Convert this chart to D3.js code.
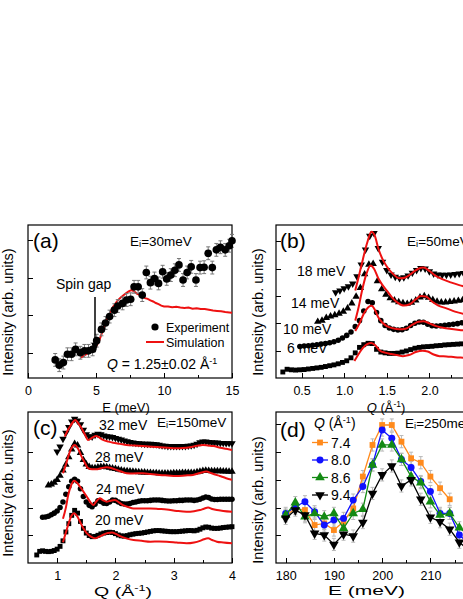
<!DOCTYPE html>
<meta charset="utf-8">
<style>
body { margin: 0; background: #fff; }
svg { font-family: "Liberation Sans", Arial, sans-serif; }
.axis text { font-size: 12.5px; fill: #000; font-family: "Liberation Sans", Arial, sans-serif; }
.axis path, .axis line { fill: none; stroke: #000; shape-rendering: crispEdges; }
.frame { fill: none; stroke: #000; stroke-width: 1.2px; }
.sim { fill: none; stroke: #ee1111; stroke-width: 2px; }
</style>
<body>
<div id="chart"></div>
<script src="https://cdn.jsdelivr.net/npm/d3@7/dist/d3.min.js"></script>
<script>

// ---- (a) Ei = 30 meV, Q = 1.25 A^-1 : [E (meV), intensity]
var aExp = [[2.0,0.82],[2.3,0.68],[2.6,0.75],[2.9,0.97],[3.2,0.97],[3.5,1.10],[3.85,1.01],[4.15,1.06],
  [4.45,1.06],[4.75,1.10],[5.05,1.33],[5.4,1.63],[5.7,1.80],[6.0,1.97],[6.35,2.14],[6.6,2.25],[6.95,2.32],
  [7.25,2.41],[7.55,2.43],[7.8,2.76],[8.1,2.76],[8.4,2.54],[8.7,3.14],[9.0,2.87],[9.3,2.98],[9.6,2.85],
  [9.9,3.16],[10.2,2.97],[10.5,3.07],[10.8,3.20],[11.1,3.34],[11.4,2.94],[11.7,3.14],[12.0,3.29],
  [12.35,2.94],[12.65,3.27],[12.95,3.28],[13.25,3.65],[13.55,3.27],[13.85,3.74],[14.15,3.81],[14.5,3.74],
  [14.8,3.85],[15.0,3.98]];
var aErr = 0.17;
var aSim = [[3.9,0.88],[4.2,0.95],[4.5,1.02],[4.8,1.08],[5.0,1.17],[5.2,1.30],[5.4,1.50],[5.6,1.70],
  [5.8,1.90],[6.0,2.05],[6.2,2.20],[6.4,2.30],[6.6,2.40],[6.8,2.47],[7.0,2.53],[7.2,2.59],[7.4,2.64],
  [7.6,2.67],[7.8,2.64],[8.0,2.58],[8.2,2.55],[8.4,2.50],[8.6,2.46],[8.8,2.44],[9.0,2.40],[9.2,2.37],
  [9.4,2.33],[9.6,2.30],[9.8,2.26],[10.0,2.24],[10.3,2.24],[10.6,2.22],[10.9,2.23],[11.2,2.21],[11.5,2.20],
  [11.8,2.21],[12.1,2.18],[12.4,2.19],[12.7,2.17],[13.0,2.17],[13.3,2.15],[13.6,2.13],[13.9,2.12],
  [14.2,2.11],[14.5,2.09],[14.8,2.08],[15.0,2.07]];

// ---- (b) Ei = 50 meV, cuts vs Q on a 0.05 A^-1 grid
var bLabels = ["6 meV", "10 meV", "14 meV", "18 meV"];
var bStart = [0.28, 0.48, 0.69, 0.90];
var bStep = 0.05;
var b6 = [0.22,0.32,0.30,0.29,0.30,0.31,0.33,0.35,0.37,0.39,0.42,0.45,0.48,0.52,0.57,0.63,0.74,0.92,1.12,
  1.22,1.27,1.26,1.05,0.95,0.92,0.90,0.90,0.91,0.95,0.99,1.04,1.09,1.12,1.14,1.15,1.16,1.18,1.19,1.21,
  1.22,1.23,1.24,1.25,1.26,1.27];
var b10 = [1.15,1.17,1.18,1.20,1.22,1.24,1.26,1.29,1.33,1.38,1.46,1.56,1.68,1.88,2.10,2.45,2.80,2.75,2.40,
  2.10,1.92,1.83,1.78,1.76,1.77,1.82,1.92,2.00,2.05,2.04,1.97,1.91,1.90,1.91,1.93,1.95,1.97,1.99,2.02,
  2.03,2.04];
var b14 = [2.06,2.10,2.20,2.26,2.30,2.36,2.43,2.55,2.73,2.98,3.30,3.80,4.15,4.18,3.55,3.25,3.05,2.92,2.84,
  2.78,2.74,2.72,2.76,2.84,2.95,3.00,2.94,2.86,2.80,2.77,2.77,2.79,2.81,2.83,2.85,2.86,2.87];
var b18 = [3.13,3.20,3.28,3.35,3.45,3.72,4.15,4.70,5.20,5.30,4.75,4.25,3.95,3.78,3.70,3.65,3.68,3.75,3.85,
  3.95,4.02,4.00,3.90,3.82,3.78,3.77,3.77,3.78,3.80,3.82,3.84,3.85,3.86];
var b6Sim = [[1.12,0.62],[1.17,0.88],[1.22,1.10],[1.27,1.24],[1.32,1.28],[1.37,1.18],[1.42,1.00],[1.48,0.93],
  [1.55,0.88],[1.62,0.84],[1.69,0.80],[1.76,0.84],[1.84,0.95],[1.92,1.00],[1.98,0.97],[2.05,0.86],
  [2.12,0.80],[2.20,0.79],[2.30,0.76],[2.40,0.74],[2.50,0.72]];
var b10Sim = [[1.13,1.72],[1.18,2.00],[1.23,2.35],[1.28,2.58],[1.32,2.64],[1.36,2.50],[1.40,2.22],[1.45,2.02],
  [1.50,1.90],[1.57,1.82],[1.65,1.78],[1.72,1.80],[1.80,1.95],[1.87,2.06],[1.93,2.08],[2.00,2.00],
  [2.08,1.90],[2.16,1.84],[2.24,1.80],[2.35,1.76],[2.50,1.72]];
var b14Sim = [[1.13,2.10],[1.17,2.60],[1.21,3.20],[1.26,3.80],[1.31,4.12],[1.35,4.00],[1.40,3.65],[1.45,3.40],
  [1.50,3.20],[1.56,2.95],[1.63,2.75],[1.70,2.65],[1.77,2.70],[1.84,2.88],[1.90,3.00],[1.96,2.98],
  [2.03,2.80],[2.10,2.66],[2.20,2.55],[2.30,2.43],[2.40,2.35],[2.50,2.30]];
var b18Sim = [[1.13,3.20],[1.17,3.70],[1.22,4.35],[1.27,4.95],[1.32,5.35],[1.36,5.20],[1.40,4.75],[1.45,4.35],
  [1.50,4.08],[1.57,3.82],[1.65,3.65],[1.72,3.68],[1.80,3.85],[1.87,4.00],[1.93,4.04],[2.00,3.92],
  [2.07,3.75],[2.15,3.62],[2.25,3.50],[2.35,3.40],[2.50,3.28]];

// ---- (c) Ei = 150 meV, cuts vs Q on a 0.05 A^-1 grid
var cLabels = ["20 meV", "24 meV", "28 meV", "32 meV"];
var cStart = [0.65, 0.75, 0.85, 1.00];
var cStep = 0.05;
var c20 = [0.29,0.42,0.44,0.42,0.41,0.42,0.45,0.50,0.60,0.80,1.12,1.42,1.72,1.90,1.80,1.50,1.25,1.08,0.99,
  0.95,0.96,1.00,1.05,1.08,1.10,1.11,1.10,1.06,1.01,0.98,0.97,0.99,1.02,1.04,1.06,1.07,1.08,1.10,1.12,
  1.14,1.16,1.17,1.17,1.16,1.15,1.14,1.13,1.13,1.13,1.14,1.15,1.16,1.17,1.17,1.16,1.18,1.22,1.27,1.30,
  1.29,1.26,1.25,1.25,1.26,1.28,1.29,1.30,1.31];
var c24 = [1.65,1.66,1.69,1.74,1.80,1.88,2.00,2.20,2.48,2.75,2.95,3.02,2.95,2.68,2.40,2.20,2.08,2.03,2.12,
  2.25,2.22,2.16,2.15,2.20,2.27,2.26,2.20,2.15,2.13,2.13,2.15,2.18,2.20,2.23,2.25,2.25,2.25,2.26,2.27,
  2.27,2.27,2.26,2.25,2.24,2.24,2.25,2.25,2.26,2.26,2.27,2.27,2.27,2.26,2.27,2.30,2.35,2.38,2.36,2.31,
  2.29,2.29,2.30,2.30,2.30,2.30,2.30];
var c28 = [2.80,2.84,2.90,3.00,3.15,3.34,3.55,3.82,4.10,4.30,4.25,3.98,3.72,3.56,3.47,3.43,3.43,3.45,3.47,
  3.47,3.46,3.44,3.42,3.40,3.37,3.35,3.33,3.32,3.31,3.30,3.29,3.28,3.27,3.27,3.26,3.26,3.25,3.25,3.24,
  3.24,3.24,3.24,3.24,3.25,3.25,3.25,3.26,3.26,3.26,3.26,3.26,3.28,3.30,3.33,3.34,3.33,3.32,3.32,3.32,
  3.32,3.31,3.31,3.30,3.30];
var c32 = [4.02,4.20,4.48,4.70,4.90,5.10,5.20,5.14,5.00,4.80,4.64,4.57,4.56,4.62,4.66,4.64,4.60,4.57,4.56,
  4.54,4.51,4.48,4.45,4.42,4.39,4.36,4.34,4.33,4.32,4.31,4.30,4.30,4.30,4.29,4.28,4.26,4.24,4.23,4.22,
  4.22,4.22,4.22,4.22,4.22,4.22,4.23,4.24,4.26,4.30,4.35,4.38,4.38,4.36,4.35,4.34,4.34,4.33,4.33,4.32,
  4.32,4.32];
var c20Sim = [[1.10,0.75],[1.15,1.10],[1.20,1.45],[1.25,1.72],[1.29,1.80],[1.34,1.70],[1.39,1.50],[1.45,1.25],
  [1.51,1.07],[1.58,0.95],[1.65,0.89],[1.72,0.95],[1.79,1.02],[1.87,1.08],[1.94,1.10],[2.01,1.05],
  [2.08,0.97],[2.20,0.88],[2.31,0.83],[2.45,0.80],[2.60,0.77],[2.75,0.78],[2.88,0.77],[3.05,0.74],
  [3.22,0.71],[3.35,0.74],[3.45,0.80],[3.52,0.86],[3.59,0.89],[3.66,0.83],[3.74,0.77],[3.85,0.74],[4.00,0.71]];
var c24Sim = [[1.10,1.60],[1.15,2.00],[1.19,2.45],[1.24,2.80],[1.29,2.97],[1.34,2.90],[1.39,2.76],[1.45,2.58],
  [1.51,2.39],[1.57,2.20],[1.62,2.09],[1.67,2.22],[1.73,2.34],[1.79,2.26],[1.85,2.21],[1.92,2.25],
  [1.99,2.27],[2.06,2.19],[2.13,2.09],[2.22,2.02],[2.31,1.97],[2.45,1.97],[2.60,1.97],[2.75,1.95],
  [2.88,1.93],[3.05,1.88],[3.22,1.85],[3.35,1.87],[3.45,1.91],[3.52,1.96],[3.59,2.00],[3.66,1.95],
  [3.74,1.91],[3.85,1.88],[4.00,1.85]];
var c28Sim = [[1.10,3.24],[1.15,3.55],[1.19,3.84],[1.24,4.12],[1.30,4.26],[1.36,4.12],[1.42,3.84],[1.48,3.60],
  [1.53,3.42],[1.60,3.38],[1.67,3.38],[1.75,3.42],[1.85,3.46],[1.94,3.42],[2.02,3.36],[2.10,3.30],
  [2.19,3.24],[2.30,3.23],[2.47,3.24],[2.60,3.21],[2.76,3.18],[2.90,3.16],[3.04,3.14],[3.20,3.16],
  [3.33,3.18],[3.45,3.25],[3.56,3.30],[3.65,3.24],[3.79,3.14],[3.90,3.06],[4.00,3.00]];
var c32Sim = [[1.13,4.56],[1.18,4.78],[1.22,4.92],[1.27,5.08],[1.31,5.16],[1.36,5.05],[1.42,4.86],[1.48,4.62],
  [1.53,4.44],[1.60,4.52],[1.67,4.58],[1.73,4.52],[1.79,4.44],[1.88,4.38],[1.96,4.34],[2.08,4.30],
  [2.19,4.26],[2.33,4.24],[2.47,4.22],[2.62,4.20],[2.76,4.18],[2.90,4.16],[3.04,4.14],[3.16,4.15],
  [3.28,4.18],[3.40,4.23],[3.50,4.26],[3.59,4.24],[3.68,4.22],[3.80,4.16],[3.90,4.12],[4.00,4.08]];

// ---- (d) Ei = 250 meV, cuts vs E at several Q
var dE = [180,182,184,186,188,190,192,194,196,198,200,202,204,206,208,210,212,214,216,218];
var dQ = ["7.4", "8.0", "8.6", "9.4"];
var d74 = [1.70,1.97,1.91,1.37,1.43,1.19,1.49,1.97,3.12,4.26,4.98,4.98,4.38,3.78,3.62,3.12,2.70,2.30];
var d80 = [1.79,2.03,2.21,1.85,1.37,1.55,1.61,2.27,2.76,3.54,4.80,4.50,3.74,3.45,2.94,2.58,1.79,1.79,1.01,0.70];
var d86 = [1.73,2.18,1.67,1.79,1.67,1.79,1.25,1.79,1.94,3.54,4.26,4.26,3.74,3.12,2.90,2.21,1.73,1.79,1.27,1.00];
var d94 = [1.61,1.91,1.73,1.07,1.01,0.67,1.04,0.97,1.46,2.51,3.18,3.50,2.78,3.00,2.30,1.65,1.49,1.22,0.75,0.45];
var dErr = 0.22;
var dColors = ["#ff8a1c", "#1010ff", "#138a13", "#000000"];

var svg = d3.select("#chart").append("svg")
    .attr("width", 463)
    .attr("height", 599);

var xA = d3.scaleLinear().domain([0, 15]).range([28, 232]),
    yA = d3.scaleLinear().domain([0.34, 4.4]).range([378, 225]),
    xB = d3.scaleLinear().domain([0.2, 2.5]).range([276, 472]),
    yB = d3.scaleLinear().domain([0, 5.6]).range([378, 225]),
    xC = d3.scaleLinear().domain([0.5, 4]).range([28, 232]),
    yC = d3.scaleLinear().domain([0, 5.45]).range([563, 412]),
    xD = d3.scaleLinear().domain([178, 218]).range([276, 469]),
    yD = d3.scaleLinear().domain([0, 5.45]).range([563, 412]);

function frame(id, x, y, major, minor, fmt, yt) {
  var x0 = x.range()[0], x1 = x.range()[1], yb = y.range()[0], yt0 = y.range()[1];
  svg.append("clipPath").attr("id", id)
    .append("rect").attr("x", x0).attr("y", yt0).attr("width", x1 - x0).attr("height", yb - yt0);
  svg.append("g").attr("class", "axis")
      .attr("transform", "translate(0," + yb + ")")
      .call(d3.axisBottom(x).tickValues(major).tickSize(-5).tickPadding(8).tickFormat(fmt))
      .call(function(g) { g.select(".domain").remove(); });
  svg.append("g").attr("class", "axis")
      .attr("transform", "translate(0," + yb + ")")
      .call(d3.axisBottom(x).tickValues(minor).tickSize(-3).tickFormat(""))
      .call(function(g) { g.select(".domain").remove(); });
  svg.append("g").attr("class", "axis")
      .attr("transform", "translate(" + x0 + ",0)")
      .call(d3.axisLeft(y).tickValues(yt).tickSize(-5).tickFormat(""))
      .call(function(g) { g.select(".domain").remove(); });
  svg.append("rect").attr("class", "frame")
      .attr("x", x0).attr("y", yt0).attr("width", x1 - x0).attr("height", yb - yt0);
}

function gridPts(q0, step, vals) {
  return vals.map(function(v, i) { return [q0 + i * step, v]; });
}

function markers(pts, x, y, type, size, color, flip) {
  svg.append("g").selectAll("path")
    .data(pts)
    .enter().append("path")
    .attr("d", d3.symbol().type(type).size(size))
    .attr("transform", function(d) {
      return "translate(" + x(d[0]) + "," + y(d[1]) + ")" + (flip ? " rotate(180)" : "");
    })
    .attr("fill", color);
}

function simLine(pts, x, y, clip, curve) {
  svg.append("path")
    .datum(pts)
    .attr("class", "sim")
    .attr("clip-path", "url(#" + clip + ")")
    .attr("d", d3.line().curve(curve || d3.curveLinear)
      .x(function(d) { return x(d[0]); })
      .y(function(d) { return y(d[1]); }));
}

function label(x, y, str, size, opt) {
  var t = svg.append("text").attr("x", x).attr("y", y)
    .style("font-size", size + "px").text(str);
  if (opt && opt.anchor) t.attr("text-anchor", opt.anchor);
  return t;
}

function eiLabel(x, y, val) {
  var t = svg.append("text").attr("x", x).attr("y", y).style("font-size", "13.5px");
  t.append("tspan").text("E");
  t.append("tspan").attr("dy", 1).style("font-size", "9.5px").text("i");
  t.append("tspan").attr("dy", -1).text("=" + val + "meV");
}

function qUnit(t, italicQ) {
  t.append("tspan").style("font-style", italicQ ? "italic" : "normal").text("Q");
  t.append("tspan").text(" (\u00c5");
  t.append("tspan").attr("dy", -5).style("font-size", "0.65em").text("-1");
  t.append("tspan").attr("dy", 5).text(")");
}

function yTitle(cx, cy) {
  svg.append("text")
    .attr("transform", "translate(" + cx + "," + cy + ") rotate(-90)")
    .attr("text-anchor", "middle")
    .style("font-size", "14.5px")
    .text("Intensity (arb. units)");
}

// ================= (a)
frame("clipA", xA, yA, [0, 5, 10, 15], [2.5, 7.5, 12.5], d3.format("d"), [1, 2, 3, 4]);
simLine(aSim, xA, yA, "clipA");
svg.append("g").selectAll("g")
  .data(aExp)
  .enter().append("path")
  .attr("fill", "none").attr("stroke", "#777").attr("stroke-width", 1)
  .attr("d", function(d) {
    var x = xA(d[0]), y0 = yA(d[1] - aErr), y1 = yA(d[1] + aErr);
    return "M" + x + "," + y0 + "V" + y1 + "M" + (x - 2) + "," + y0 + "H" + (x + 2) +
      "M" + (x - 2) + "," + y1 + "H" + (x + 2);
  });
markers(aExp, xA, yA, d3.symbolCircle, 46, "#000");

label(33, 248, "(a)", 21);
eiLabel(130, 246, "30");
label(56, 289, "Spin gap", 14);
svg.append("line").attr("x1", 95).attr("y1", 297).attr("x2", 95).attr("y2", 344)
  .attr("stroke", "#000").attr("stroke-width", 1.5);
svg.append("path").attr("d", "M91.5,343L98.5,343L95,353Z").attr("fill", "#000");
svg.append("circle").attr("cx", 155).attr("cy", 327).attr("r", 3.6).attr("fill", "#000");
label(166, 331.5, "Experiment", 12.5);
svg.append("line").attr("x1", 146).attr("x2", 164).attr("y1", 342).attr("y2", 342)
  .attr("stroke", "#ee1111").attr("stroke-width", 2);
label(166, 346.5, "Simulation", 12.5);
var qa = svg.append("text").attr("x", 107).attr("y", 369).style("font-size", "14px");
qa.append("tspan").style("font-style", "italic").text("Q");
qa.append("tspan").text(" = 1.25\u00b10.02 \u00c5");
qa.append("tspan").attr("dy", -5).style("font-size", "9px").text("-1");
label(126, 412, "E (meV)", 13, {anchor: "middle"});
yTitle(13, 312);

// ================= (b)
frame("clipB", xB, yB, [0.5, 1.0, 1.5, 2.0], [0.75, 1.25, 1.75, 2.25], d3.format(".1f"), [1, 2, 3, 4, 5]);
var bSeries = [b6, b10, b14, b18];
var bSims = [b6Sim, b10Sim, b14Sim, b18Sim];
var bTypes = [d3.symbolSquare, d3.symbolCircle, d3.symbolTriangle, d3.symbolTriangle];
bSeries.forEach(function(vals, i) {
  markers(gridPts(bStart[i], bStep, vals).filter(function(d) { return d[0] <= 2.5; }),
    xB, yB, bTypes[i], 24, "#000", i === 3);
});
bSims.forEach(function(s) { simLine(s, xB, yB, "clipB", d3.curveMonotoneX); });
var bLabX = [287, 283, 291, 297], bLabY = [353, 334, 308, 276];
bLabels.forEach(function(s, i) { label(bLabX[i], bLabY[i], s, 14); });
label(280, 248, "(b)", 21);
eiLabel(407, 246, "50");
qUnit(svg.append("text").attr("x", 386).attr("y", 412).attr("text-anchor", "middle")
  .style("font-size", "13px"), true);
yTitle(263, 312);

// ================= (c)
frame("clipC", xC, yC, [1, 2, 3, 4], [1.5, 2.5, 3.5], d3.format("d"), [1, 2, 3, 4]);
var cSeries = [c20, c24, c28, c32];
var cSims = [c20Sim, c24Sim, c28Sim, c32Sim];
cSeries.forEach(function(vals, i) {
  markers(gridPts(cStart[i], cStep, vals), xC, yC, bTypes[i], 24, "#000", i === 3);
});
cSims.forEach(function(s) { simLine(s, xC, yC, "clipC", d3.curveMonotoneX); });
var cLabX = [95, 96, 95, 99], cLabY = [525, 494, 462, 430];
cLabels.forEach(function(s, i) { label(cLabX[i], cLabY[i], s, 14); });
label(33, 435, "(c)", 21);
eiLabel(157, 427, "150");
var qc = svg.append("text").attr("x", 94).attr("y", 596)
  .attr("textLength", 58).attr("lengthAdjust", "spacingAndGlyphs")
  .style("font-size", "13px");
qUnit(qc, false);
yTitle(13, 493);

// ================= (d)
frame("clipD", xD, yD, [180, 190, 200, 210], [185, 195, 205, 215], d3.format("d"), [1, 2, 3, 4, 5]);
var dSeries = [d74, d80, d86, d94];
var dTypes = [d3.symbolSquare, d3.symbolCircle, d3.symbolTriangle, d3.symbolTriangle];
var dSizes = [34, 38, 40, 40];
dSeries.forEach(function(vals, i) {
  var pts = vals.map(function(v, j) { return [dE[j], v]; });
  svg.append("g").attr("clip-path", "url(#clipD)").selectAll("path")
    .data(pts)
    .enter().append("path")
    .attr("fill", "none").attr("stroke", "#b8b8b8").attr("stroke-width", 1)
    .attr("d", function(d) {
      var x = xD(d[0]), y0 = yD(d[1] - dErr), y1 = yD(d[1] + dErr);
      return "M" + x + "," + y0 + "V" + y1 + "M" + (x - 2) + "," + y0 + "H" + (x + 2) +
        "M" + (x - 2) + "," + y1 + "H" + (x + 2);
    });
});
dSeries.forEach(function(vals, i) {
  var pts = vals.map(function(v, j) { return [dE[j], v]; });
  svg.append("path").datum(pts)
    .attr("fill", "none").attr("stroke", dColors[i]).attr("stroke-width", 1.3)
    .attr("clip-path", "url(#clipD)")
    .attr("d", d3.line().x(function(d) { return xD(d[0]); }).y(function(d) { return yD(d[1]); }));
  markers(pts, xD, yD, dTypes[i], dSizes[i], dColors[i], i === 3);
});
label(280, 437, "(d)", 21);
eiLabel(405, 428, "250");
qUnit(svg.append("text").attr("x", 314).attr("y", 428).style("font-size", "14px"), true);
dQ.forEach(function(s, i) {
  var cy = 442.5 + i * 17.5;
  svg.append("line").attr("x1", 312).attr("x2", 328).attr("y1", cy).attr("y2", cy)
    .attr("stroke", dColors[i]).attr("stroke-width", 1.3);
  svg.append("path").attr("d", d3.symbol().type(dTypes[i]).size(dSizes[i]))
    .attr("transform", "translate(320," + cy + ")" + (i === 3 ? " rotate(180)" : ""))
    .attr("fill", dColors[i]);
  label(331, cy + 5, s, 14);
});
svg.append("text").attr("x", 328).attr("y", 595)
  .attr("textLength", 77).attr("lengthAdjust", "spacingAndGlyphs")
  .style("font-size", "13px").text("E (meV)");
yTitle(263, 500);

</script>
